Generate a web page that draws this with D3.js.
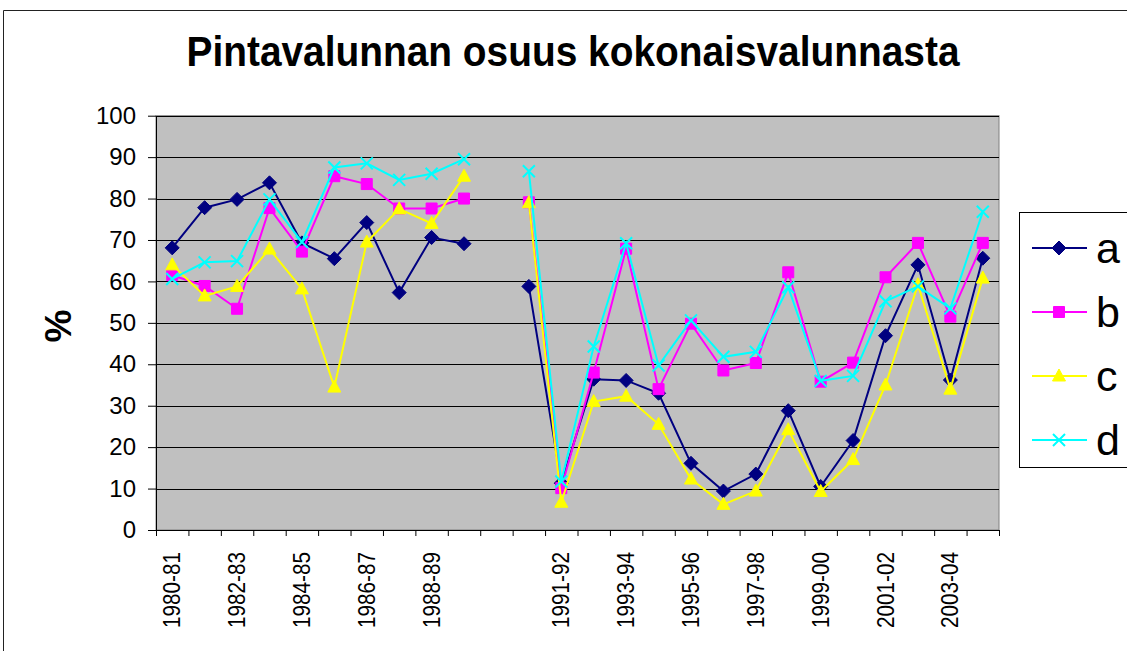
<!DOCTYPE html>
<html>
<head>
<meta charset="utf-8">
<script src="https://cdn.jsdelivr.net/npm/d3@7"></script>
<style>
  body { margin: 0; background: #fff; }
  svg { display: block; font-family: "Liberation Sans", Arial, sans-serif; }
</style>
</head>
<body>
<svg id="chart" width="1127" height="651"></svg>
<script>
// categories (index 10 is an empty gap category)
const categories = ["1980-81","1981-82","1982-83","1983-84","1984-85","1985-86","1986-87","1987-88","1988-89","1989-90",
  "","1990-91","1991-92","1992-93","1993-94","1994-95","1995-96","1996-97","1997-98","1998-99","1999-00",
  "2000-01","2001-02","2002-03","2003-04","2004-05"];

const seriesNames = ["a", "b", "c", "d"];

// values, null = no data
const valuesA = [68.1, 77.8, 79.8, 83.8, 69.3, 65.5, 74.2, 57.3, 70.6, 69.1,
  null, 58.8, 11.3, 36.4, 36.1, 33.0, 16.1, 9.4, 13.5, 28.8, 10.5, 21.6, 46.9, 64.0, 36.2, 65.6];
const valuesB = [61.5, 58.9, 53.4, 77.7, 67.2, 85.4, 83.5, 77.6, 77.6, 80.0,
  null, 79.1, 10.1, 38.0, 67.9, 34.0, 49.8, 38.5, 40.3, 62.2, 35.8, 40.4, 61.0, 69.3, 51.5, 69.3];
const valuesC = [64.0, 56.5, 58.8, 67.8, 58.2, 34.5, 69.5, 77.5, 74.0, 85.4,
  null, 79.0, 6.7, 31.0, 32.3, 25.5, 12.3, 6.2, 9.4, 24.2, 9.3, 17.0, 35.0, 59.2, 34.0, 60.8];
const valuesD = [60.6, 64.6, 64.9, 79.8, 69.5, 87.5, 88.5, 84.5, 86.0, 89.5,
  null, 86.6, 11.7, 44.3, 69.2, 39.7, 50.6, 41.8, 43.0, 58.6, 36.0, 37.2, 55.2, 58.8, 53.5, 76.8];

const yTicks = [0, 10, 20, 30, 40, 50, 60, 70, 80, 90, 100];

const seriesList = [
  { name: seriesNames[0], values: valuesA, color: "#000080", marker: "diamond" },
  { name: seriesNames[1], values: valuesB, color: "#FF00FF", marker: "square" },
  { name: seriesNames[2], values: valuesC, color: "#FFFF00", marker: "triangle" },
  { name: seriesNames[3], values: valuesD, color: "#00FFFF", marker: "x" }
];

const svg = d3.select("#chart");

const plot = { left: 156, right: 999, top: 115.7, bottom: 530 };

const x = d3.scaleBand().domain(categories).range([plot.left, plot.right]);
const xEdge = d3.scaleLinear().domain([0, categories.length]).range([plot.left, plot.right]);
const y = d3.scaleLinear().domain([0, 100]).range([plot.bottom, plot.top]);

// outer chart border (cropped on the right / bottom)
svg.append("path")
  .attr("d", "M3.5,660V10.5H1140")
  .attr("fill", "none")
  .attr("stroke", "#222")
  .attr("stroke-width", 1);

// title
svg.append("text")
  .attr("x", 573)
  .attr("y", 66)
  .attr("text-anchor", "middle")
  .attr("font-size", 43)
  .attr("font-weight", "bold")
  .attr("textLength", 773)
  .attr("lengthAdjust", "spacingAndGlyphs")
  .text("Pintavalunnan osuus kokonaisvalunnasta");

// plot area
svg.append("rect")
  .attr("x", plot.left)
  .attr("y", plot.top)
  .attr("width", plot.right - plot.left)
  .attr("height", plot.bottom - plot.top)
  .attr("fill", "#C0C0C0")
  .attr("stroke", "#808080")
  .attr("stroke-width", 1);

// gridlines
svg.append("g")
  .selectAll("line")
  .data(yTicks.filter(d => d > 0))
  .enter().append("line")
  .attr("x1", plot.left)
  .attr("x2", plot.right)
  .attr("y1", d => Math.round(y(d)) + 0.5)
  .attr("y2", d => Math.round(y(d)) + 0.5)
  .attr("stroke", "#000")
  .attr("stroke-width", 1);

// y axis
const yAxis = svg.append("g")
  .attr("transform", `translate(${plot.left},0)`)
  .call(d3.axisLeft(y).tickValues(yTicks).tickSize(8).tickPadding(12).tickSizeOuter(0));
yAxis.select(".domain").attr("stroke", "#000");
yAxis.selectAll("line").attr("stroke", "#000");
yAxis.selectAll("text")
  .attr("font-size", 24)
  .attr("fill", "#000")
  .attr("font-family", "Liberation Sans, Arial, sans-serif");

// x axis ticks at category boundaries
const xAxis = svg.append("g")
  .attr("transform", `translate(0,${plot.bottom})`)
  .call(d3.axisBottom(xEdge).tickValues(d3.range(categories.length + 1)).tickSize(6).tickFormat("").tickSizeOuter(0));
xAxis.select(".domain").attr("stroke", "#000");
xAxis.selectAll("line").attr("stroke", "#000");

// category labels, every other one
svg.append("g")
  .selectAll("text")
  .data(categories.filter((d, i) => i % 2 === 0))
  .enter().append("text")
  .attr("transform", d => `translate(${x(d) + x.bandwidth() / 2},${plot.bottom + 22}) rotate(-90)`)
  .attr("text-anchor", "end")
  .attr("dy", "0.35em")
  .attr("font-size", 23)
  .attr("textLength", 76)
  .attr("lengthAdjust", "spacingAndGlyphs")
  .text(d => d);

// y axis title
svg.append("text")
  .attr("transform", "translate(58,326) rotate(-90)")
  .attr("text-anchor", "middle")
  .attr("dy", "0.35em")
  .attr("font-size", 37)
  .attr("font-weight", "bold")
  .text("%");

// marker shapes
const markerPath = {
  diamond: "M0,-7L7,0L0,7L-7,0Z",
  square: "M-5.5,-5.5H5.5V5.5H-5.5Z",
  triangle: "M0,-7L6.5,5L-6.5,5Z",
  x: "M-6,-6L6,6M-6,6L6,-6"
};

function drawMarker(sel, s) {
  sel.attr("d", markerPath[s.marker])
    .attr("fill", s.marker === "x" ? "none" : s.color)
    .attr("stroke", s.color)
    .attr("stroke-width", s.marker === "x" ? 2 : 1);
}

const line = d3.line()
  .defined(d => d.v != null)
  .x(d => x(d.c) + x.bandwidth() / 2)
  .y(d => y(d.v));

seriesList.forEach(s => {
  const pts = categories.map((c, i) => ({ c: c, v: s.values[i] }));
  const g = svg.append("g");
  g.append("path")
    .datum(pts)
    .attr("d", line)
    .attr("fill", "none")
    .attr("stroke", s.color)
    .attr("stroke-width", 2);
  g.selectAll("path.m")
    .data(pts.filter(d => d.v != null))
    .enter().append("path")
    .attr("class", "m")
    .attr("transform", d => `translate(${x(d.c) + x.bandwidth() / 2},${y(d.v)})`)
    .call(drawMarker, s);
});

// legend
const legend = svg.append("g");
legend.append("rect")
  .attr("x", 1019.5)
  .attr("y", 212.5)
  .attr("width", 140)
  .attr("height", 255)
  .attr("fill", "#fff")
  .attr("stroke", "#000")
  .attr("stroke-width", 1);

const legendY = d3.scalePoint().domain(seriesNames).range([248, 440]);

seriesList.forEach(s => {
  const ly = legendY(s.name);
  legend.append("line")
    .attr("x1", 1032).attr("x2", 1087)
    .attr("y1", ly).attr("y2", ly)
    .attr("stroke", s.color)
    .attr("stroke-width", 2);
  legend.append("path")
    .attr("transform", `translate(1059,${ly})`)
    .call(drawMarker, s);
  legend.append("text")
    .attr("x", 1096)
    .attr("y", ly + 15)
    .attr("font-size", 43)
    .text(s.name);
});
</script>
</body>
</html>
